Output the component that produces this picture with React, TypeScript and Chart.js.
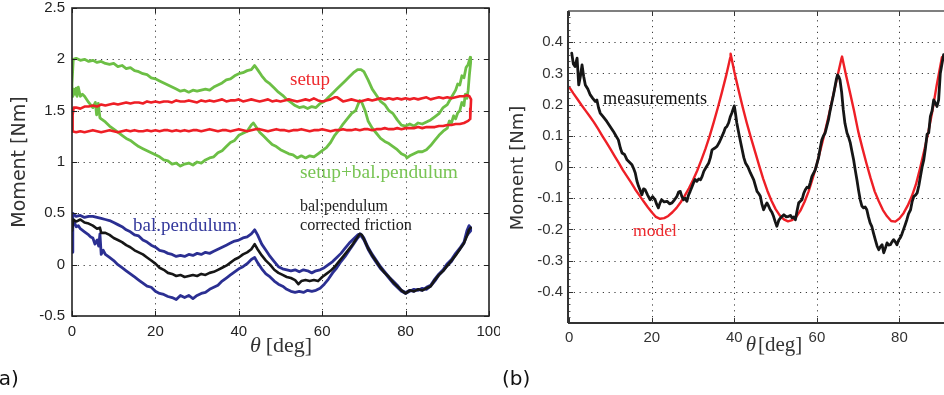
import React, { useEffect, useRef } from "react";
import { Chart, registerables } from "chart.js";
Chart.register(...registerables);

// ---------------- Panel (a) data: [theta (deg), moment (Nm)] ----------------
const setupLoop: [number, number][] = [
  [0,1.30],[0.15,1.46],[0.4,1.53],[1,1.53],[2,1.52],[3,1.54],[4,1.54],[5,1.55],[6,1.54],[7,1.56],[8,1.55],[9,1.56],[10,1.57],[11,1.56],[12,1.57],[13,1.58],[14,1.57],[15,1.58],[16,1.58],[17,1.57],[18,1.59],[19,1.58],[20,1.59],[21,1.58],[22,1.59],[23,1.59],[24,1.58],[25,1.60],[26,1.59],[27,1.59],[28,1.60],[29,1.59],[30,1.58],[31,1.60],[32,1.59],[33,1.60],[34,1.59],[35,1.60],[36,1.61],[37,1.59],[38,1.60],[39,1.60],[40,1.61],[41,1.59],[42,1.60],[43,1.61],[44,1.60],[45,1.59],[46,1.60],[47,1.61],[48,1.59],[49,1.60],[50,1.59],[51,1.60],[52,1.61],[53,1.60],[54,1.59],[55,1.60],[56,1.61],[57,1.60],[58,1.62],[59,1.60],[60,1.59],[61,1.60],[62,1.61],[63,1.63],[63.6,1.63],[64.3,1.61],[65,1.59],[66,1.60],[67,1.61],[68,1.60],[69,1.59],[70,1.60],[71,1.61],[72,1.60],[73,1.61],[74,1.62],[75,1.61],[76,1.62],[77,1.61],[78,1.62],[79,1.61],[80,1.62],[81,1.61],[82,1.62],[83,1.61],[84,1.62],[85,1.63],[86,1.61],[87,1.62],[88,1.63],[89,1.62],[90,1.63],[91,1.62],[92,1.63],[93,1.64],[94,1.64],[94.7,1.65],[95.3,1.64],[95.7,1.61],[95.6,1.52],[95.5,1.42],
  [95,1.40],[94,1.38],[93,1.37],[92,1.37],[91,1.36],[90,1.36],[89,1.35],[88,1.35],[87,1.34],[86,1.34],[85,1.34],[84,1.33],[83,1.34],[82,1.33],[81,1.33],[80,1.33],[79,1.32],[78,1.33],[77,1.32],[76,1.32],[75,1.33],[74,1.32],[73,1.32],[72,1.31],[71,1.32],[70,1.32],[69,1.31],[68,1.32],[67,1.31],[66,1.31],[65,1.32],[64,1.31],[63,1.31],[62,1.30],[61,1.31],[60,1.32],[59,1.31],[58,1.31],[57,1.30],[56,1.31],[55,1.32],[54,1.31],[53,1.31],[52,1.30],[51,1.31],[50,1.31],[49,1.32],[48,1.31],[47,1.30],[46,1.31],[45,1.32],[44,1.32],[43,1.31],[42,1.30],[41,1.31],[40,1.32],[39,1.31],[38,1.30],[37,1.31],[36,1.31],[35,1.30],[34,1.31],[33,1.32],[32,1.31],[31,1.30],[30,1.31],[29,1.31],[28,1.30],[27,1.31],[26,1.30],[25,1.31],[24,1.30],[23,1.31],[22,1.31],[21,1.30],[20,1.31],[19,1.30],[18,1.31],[17,1.30],[16,1.30],[15,1.31],[14,1.30],[13,1.31],[12,1.30],[11,1.29],[10,1.30],[9,1.31],[8,1.30],[7,1.29],[6,1.30],[5,1.31],[4,1.30],[3,1.29],[2,1.30],[1,1.29],[0,1.30],
];

const setupBalLoop: [number, number][] = [
  [0,1.76],[0.3,2.0],[1,2.01],[2,1.99],[3,2.0],[4,1.98],[5,1.99],[6,1.97],[7,1.98],[8,1.96],[9,1.95],[10,1.96],[11,1.93],[12,1.94],[13,1.91],[14,1.92],[15,1.89],[16,1.88],[17,1.86],[18,1.85],[19,1.82],[20,1.81],[21,1.79],[22,1.77],[23,1.75],[24,1.73],[25,1.71],[26,1.69],[27,1.70],[28,1.68],[29,1.70],[30,1.69],[31,1.70],[32,1.71],[33,1.70],[34,1.73],[35,1.75],[36,1.77],[37,1.80],[38,1.81],[39,1.84],[40,1.86],[41,1.87],[42,1.89],[43,1.90],[43.8,1.94],[44.5,1.90],[45.5,1.84],[46.5,1.79],[47.5,1.76],[48.5,1.72],[49.5,1.68],[50.5,1.65],[51.5,1.61],[52.5,1.58],[53.5,1.55],[54.5,1.53],[55.5,1.54],[56.5,1.52],[57.5,1.54],[58.5,1.53],[59.5,1.57],[60.5,1.59],[61.5,1.63],[62.5,1.67],[63.5,1.71],[64.5,1.75],[65.5,1.79],[66.5,1.83],[67.5,1.87],[68.5,1.90],[69.3,1.90],[70,1.88],[71,1.80],[72,1.71],[73,1.65],[74,1.59],[75,1.56],[76,1.50],[77,1.47],[78,1.41],[79,1.36],[80,1.35],[81,1.37],[82,1.35],[83,1.38],[84,1.37],[85,1.39],[86,1.41],[87,1.44],[88,1.47],[89,1.53],[90,1.56],[91,1.63],[92,1.70],[92.5,1.76],[93,1.75],[93.5,1.84],[94,1.82],[94.5,1.92],[95,1.95],[95.5,2.02],
  [95.6,1.97],[95.3,1.85],[95,1.70],[94.7,1.62],[94.3,1.66],[94,1.55],[93.5,1.58],[93,1.50],[92.5,1.48],[92,1.42],[91.5,1.45],[91,1.38],[90.5,1.40],[90,1.33],[89,1.30],[88,1.26],[87,1.21],[86,1.16],[85,1.12],[84,1.10],[83,1.10],[82,1.08],[81,1.06],[80.3,1.04],[80,1.06],[79,1.08],[78,1.12],[77,1.15],[76,1.18],[75,1.20],[74,1.23],[73,1.28],[72,1.33],[71,1.40],[70.3,1.50],[69.5,1.58],[69,1.60],[68.5,1.55],[68,1.50],[67,1.47],[66,1.42],[65,1.37],[64,1.31],[63,1.26],[62,1.19],[61,1.14],[60,1.11],[59,1.08],[58,1.05],[57,1.06],[56,1.04],[55,1.06],[54,1.04],[53,1.07],[52,1.08],[51,1.10],[50,1.12],[49,1.15],[48,1.17],[47,1.21],[46,1.25],[45,1.29],[44,1.35],[43.5,1.38],[43,1.36],[42,1.30],[41,1.28],[40,1.26],[39,1.21],[38,1.19],[37,1.15],[36,1.11],[35,1.09],[34,1.05],[33,1.04],[32,1.02],[31,0.99],[30,1.00],[29,0.97],[28,0.99],[27,0.98],[26,0.96],[25,0.99],[24,0.98],[23,1.01],[22,1.02],[21,1.05],[20,1.07],[19,1.09],[18,1.11],[17,1.13],[16,1.15],[15,1.18],[14,1.21],[13,1.23],[12,1.26],[11,1.29],[10,1.32],[9,1.35],[8,1.39],[7,1.42],[6.7,1.43],[6.3,1.57],[5.9,1.46],[5.6,1.58],[5,1.53],[4,1.58],[3,1.64],[2.5,1.66],[2,1.64],[1.5,1.73],[1.2,1.64],[1,1.72],[0.7,1.66],[0.4,1.71],[0.2,1.64],[0,1.76],
];

const balPendulumLoop: [number, number][] = [
  [0,0.12],[0.2,0.50],[1,0.47],[2,0.48],[3,0.46],[4,0.47],[5,0.47],[6,0.46],[7,0.45],[8,0.44],[9,0.43],[10,0.41],[11,0.39],[12,0.37],[13,0.34],[14,0.32],[15,0.29],[16,0.28],[17,0.24],[18,0.22],[19,0.19],[20,0.17],[21,0.14],[22,0.13],[23,0.11],[24,0.10],[25,0.08],[26,0.09],[27,0.08],[28,0.10],[29,0.09],[30,0.11],[31,0.10],[32,0.12],[33,0.11],[34,0.13],[35,0.15],[36,0.17],[37,0.19],[38,0.21],[39,0.23],[40,0.24],[41,0.26],[42,0.27],[43,0.30],[43.8,0.34],[44.5,0.29],[45.5,0.20],[46.5,0.14],[47.5,0.08],[48.5,0.03],[49.5,-0.02],[50.5,-0.04],[51.5,-0.05],[52.5,-0.06],[53.5,-0.05],[54.5,-0.07],[55.5,-0.05],[56.5,-0.06],[57.5,-0.08],[58.5,-0.06],[59.5,-0.05],[60.5,-0.03],[61.5,0.0],[62.5,0.03],[63.5,0.07],[64.5,0.11],[65.5,0.16],[66.5,0.21],[67.5,0.25],[68.5,0.29],[69.2,0.30],[70,0.26],[71,0.17],[72,0.10],[73,0.04],[74,-0.02],[75,-0.07],[76,-0.12],[77,-0.16],[78,-0.20],[79,-0.25],[80,-0.27],[81,-0.25],[82,-0.26],[83,-0.24],[84,-0.25],[85,-0.22],[86,-0.20],[87,-0.14],[88,-0.09],[89,-0.05],[90,0.01],[91,0.05],[92,0.11],[93,0.16],[94,0.22],[94.7,0.33],[95.2,0.38],[95.6,0.36],
  [95.6,0.33],[95,0.30],[94.5,0.27],[94,0.21],[93,0.15],[92,0.10],[91,0.03],[90,-0.01],[89,-0.06],[88,-0.10],[87,-0.16],[86,-0.21],[85,-0.24],[84,-0.23],[83,-0.25],[82,-0.24],[81,-0.26],[80,-0.28],[79,-0.26],[78,-0.22],[77,-0.18],[76,-0.13],[75,-0.08],[74,-0.04],[73,0.02],[72,0.08],[71,0.15],[70,0.24],[69.2,0.29],[68.5,0.26],[67.5,0.20],[66.5,0.14],[65.5,0.08],[64.5,0.03],[63.5,-0.03],[62.5,-0.08],[61.5,-0.14],[60.5,-0.19],[59.5,-0.23],[58.5,-0.25],[57.5,-0.26],[56.5,-0.25],[55.5,-0.27],[54.5,-0.26],[53.5,-0.27],[52.5,-0.26],[51.5,-0.24],[50.5,-0.21],[49.5,-0.19],[48.5,-0.16],[47.5,-0.12],[46.5,-0.09],[45.5,-0.04],[44.5,0.02],[43.8,0.07],[43,0.05],[42,0.01],[41,-0.02],[40,-0.04],[39,-0.07],[38,-0.10],[37,-0.13],[36,-0.16],[35,-0.20],[34,-0.22],[33,-0.24],[32,-0.27],[31,-0.28],[30,-0.30],[29,-0.33],[28,-0.30],[27,-0.32],[26,-0.30],[25,-0.34],[24,-0.32],[23,-0.31],[22,-0.29],[21,-0.28],[20,-0.26],[19,-0.22],[18,-0.21],[17,-0.18],[16,-0.15],[15,-0.12],[14,-0.09],[13,-0.06],[12,-0.03],[11,0.00],[10,0.04],[9,0.07],[8,0.10],[7.5,0.14],[7,0.10],[6.7,0.30],[6.4,0.18],[6,0.24],[5.5,0.20],[5,0.26],[4.5,0.27],[4,0.29],[3,0.32],[2,0.35],[1.5,0.38],[1,0.37],[0.5,0.42],[0.2,0.38],[0,0.12],
];

const correctedFriction: [number, number][] = [
  [0,0.33],[0.3,0.44],[1,0.42],[2,0.44],[3,0.41],[4,0.40],[5,0.38],[6,0.35],[6.7,0.36],[7,0.31],[8,0.31],[9,0.29],[10,0.26],[11,0.24],[12,0.22],[13,0.19],[14,0.17],[15,0.14],[16,0.12],[17,0.10],[18,0.07],[19,0.04],[20,0.01],[21,-0.03],[22,-0.05],[23,-0.08],[24,-0.09],[25,-0.11],[26,-0.10],[27,-0.12],[28,-0.11],[29,-0.10],[30,-0.11],[31,-0.09],[32,-0.10],[33,-0.08],[34,-0.07],[35,-0.05],[36,-0.03],[37,-0.01],[38,0.02],[39,0.05],[40,0.07],[41,0.10],[42,0.12],[43,0.15],[43.8,0.20],[44.5,0.15],[45.5,0.09],[46.5,0.04],[47.5,0.00],[48.5,-0.05],[49.5,-0.08],[50.5,-0.10],[51.5,-0.12],[52.5,-0.13],[53.5,-0.15],[54.3,-0.19],[55,-0.16],[56,-0.15],[57,-0.16],[58,-0.15],[59,-0.16],[60,-0.12],[61,-0.09],[62,-0.06],[63,-0.02],[64,0.03],[65,0.08],[66,0.13],[67,0.18],[68,0.24],[69,0.30],[69.5,0.29],[70,0.25],[71,0.16],[72,0.09],[73,0.03],[74,-0.03],[75,-0.08],[76,-0.12],[77,-0.17],[78,-0.21],[79,-0.25],[80,-0.28],[81,-0.25],[82,-0.26],[83,-0.24],[84,-0.25],[85,-0.23],[86,-0.21],[87,-0.15],[88,-0.10],[89,-0.06],[90,-0.01],[91,0.04],[92,0.09],[93,0.15],[94,0.21],[94.7,0.28],[95.2,0.34],[95.6,0.36],
];

const xTicksA = [0, 20, 40, 60, 80, 100];
const yTicksA = [-0.5, 0, 0.5, 1, 1.5, 2, 2.5];

// ---------------- Panel (b) data ----------------
const modelCurve: [number, number][] = [
  [0,0.256],[1,0.236],[2,0.217],[3,0.198],[4,0.180],[5,0.162],[6,0.143],[7,0.122],[8,0.100],[9,0.079],[10,0.057],[11,0.035],[12,0.013],[13,-0.010],[14,-0.030],[15,-0.050],[16,-0.072],[17,-0.091],[18,-0.110],[19,-0.128],[20,-0.145],[21,-0.160],[22,-0.166],[23,-0.164],[24,-0.157],[25,-0.145],[26,-0.131],[27,-0.113],[28,-0.092],[29,-0.068],[30,-0.042],[31,-0.012],[32,0.022],[33,0.058],[34,0.098],[35,0.143],[36,0.190],[37,0.240],[38,0.292],[39,0.350],[39.1,0.363],
  [40,0.305],[41,0.248],[42,0.193],[43,0.142],[44,0.095],[45,0.050],[46,0.005],[47,-0.038],[48,-0.076],[49,-0.108],[50,-0.135],[51,-0.155],[52,-0.168],[53,-0.174],[54,-0.170],[55,-0.160],[56,-0.140],[57,-0.112],[58,-0.078],[59,-0.036],[60,0.010],[61,0.062],[62,0.115],[63,0.172],[64,0.232],[65,0.292],[66,0.350],[66.1,0.354],
  [67,0.298],[68,0.240],[69,0.180],[70,0.115],[71,0.062],[72,0.012],[73,-0.035],[74,-0.078],[75,-0.110],[76,-0.138],[77,-0.158],[78,-0.173],[79,-0.175],[80,-0.165],[81,-0.148],[82,-0.124],[83,-0.094],[84,-0.056],[85,-0.004],[86,0.052],[87,0.112],[88,0.180],[89,0.260],[90,0.330],[90.3,0.352],
];

const measurements: [number, number][] = [
  [0.6,0.365],[1.0,0.33],[1.4,0.322],[1.9,0.349],[2.3,0.263],[2.7,0.29],[3.1,0.327],[3.5,0.29],[3.9,0.263],[4.5,0.25],[5.1,0.231],[5.7,0.22],[6.3,0.21],[6.7,0.215],[7.1,0.19],[7.5,0.173],[8.3,0.16],[9.1,0.146],[9.9,0.13],[10.7,0.114],[11.3,0.10],[11.9,0.087],[12.4,0.06],[12.8,0.045],[13.4,0.04],[14,0.023],[14.6,0.015],[15.2,0.007],[15.6,-0.005],[16,-0.019],[16.4,-0.045],[16.8,-0.062],[17.2,-0.075],[17.6,-0.089],[18,-0.07],[18.4,-0.073],[19,-0.09],[19.6,-0.105],[20.2,-0.095],[20.8,-0.105],[21.2,-0.12],[21.6,-0.131],[22,-0.115],[22.4,-0.105],[23,-0.112],[23.7,-0.11],[24.3,-0.118],[24.9,-0.115],[25.5,-0.105],[26.1,-0.094],[26.5,-0.08],[26.9,-0.078],[27.3,-0.095],[27.7,-0.105],[28.1,-0.1],[28.5,-0.11],[28.9,-0.09],[29.3,-0.078],[29.7,-0.065],[30.1,-0.051],[30.5,-0.04],[30.9,-0.046],[31.4,-0.038],[31.8,-0.041],[32.2,-0.03],[32.6,-0.014],[33.2,0.0],[33.8,0.013],[34.2,0.03],[34.6,0.055],[35.2,0.06],[35.8,0.066],[36.4,0.08],[37,0.098],[37.4,0.11],[37.8,0.125],[38.2,0.13],[38.6,0.141],[39,0.16],[39.4,0.173],[39.7,0.185],[40,0.196],[40.3,0.17],[40.6,0.141],[41.2,0.1],[41.9,0.055],[42.3,0.03],[42.7,0.013],[43.3,0.0],[43.9,-0.019],[44.3,-0.03],[44.7,-0.041],[45.1,-0.06],[45.5,-0.078],[45.9,-0.085],[46.3,-0.094],[46.7,-0.12],[47.1,-0.137],[47.5,-0.125],[47.9,-0.115],[48.3,-0.125],[48.7,-0.137],[49.1,-0.145],[49.5,-0.158],[49.9,-0.175],[50.3,-0.19],[50.8,-0.17],[51.2,-0.163],[51.6,-0.158],[52,-0.153],[52.6,-0.16],[53.2,-0.158],[53.6,-0.155],[54,-0.163],[54.4,-0.16],[54.8,-0.169],[55.2,-0.14],[55.6,-0.115],[56,-0.11],[56.4,-0.105],[56.8,-0.085],[57.2,-0.073],[57.6,-0.065],[58,-0.067],[58.4,-0.05],[58.8,-0.03],[59.2,-0.02],[59.6,-0.009],[60,0.01],[60.4,0.029],[60.8,0.06],[61.2,0.087],[61.6,0.1],[62,0.109],[62.4,0.13],[62.8,0.151],[63.2,0.18],[63.6,0.205],[64,0.23],[64.4,0.258],[64.7,0.28],[65,0.295],[65.3,0.29],[65.6,0.279],[66,0.24],[66.4,0.183],[66.8,0.14],[67.3,0.109],[67.7,0.095],[68.1,0.077],[68.5,0.05],[68.9,0.023],[69.3,-0.01],[69.7,-0.041],[70.1,-0.075],[70.5,-0.105],[70.9,-0.125],[71.3,-0.131],[71.7,-0.128],[72.1,-0.137],[72.5,-0.16],[72.9,-0.179],[73.3,-0.19],[73.7,-0.211],[74.2,-0.235],[74.6,-0.254],[75,-0.265],[75.4,-0.255],[75.8,-0.249],[76.2,-0.275],[76.6,-0.26],[77,-0.243],[77.4,-0.25],[77.8,-0.249],[78.2,-0.24],[78.6,-0.233],[79,-0.24],[79.4,-0.249],[79.8,-0.235],[80.2,-0.227],[80.6,-0.215],[81,-0.2],[81.4,-0.185],[81.8,-0.169],[82.2,-0.15],[82.7,-0.137],[83.1,-0.11],[83.5,-0.094],[83.9,-0.09],[84.3,-0.083],[84.7,-0.06],[85.1,-0.03],[85.5,0.0],[85.9,0.023],[86.3,0.06],[86.7,0.105],[87.1,0.11],[87.5,0.162],[87.9,0.18],[88.3,0.215],[88.7,0.205],[89.1,0.194],[89.5,0.215],[89.9,0.3],[90.3,0.33],[90.7,0.36],
];

const xTicksB = [0, 20, 40, 60, 80];
const yTicksB = [-0.4, -0.3, -0.2, -0.1, 0, 0.1, 0.2, 0.3, 0.4];

// ---------------- helpers ----------------
const TICK_FONT = "'Liberation Sans', Arial, sans-serif";
const SERIF = "'Liberation Serif', 'Times New Roman', serif";
const SANS2 = "'DejaVu Sans', Verdana, sans-serif";

const line = (label: string, arr: [number, number][], color: string, width: number) => ({
  label,
  data: arr.map(([x, y]) => ({ x, y })),
  borderColor: color,
  backgroundColor: color,
  borderWidth: width,
  pointRadius: 0,
  showLine: true,
  fill: false,
  tension: 0,
  borderJoinStyle: "round",
  borderCapStyle: "round",
});

const setTicks = (vals: number[]) => (s: any) => {
  s.ticks = vals.map((v) => ({ value: v }));
};

const fixSize = (dim: "width" | "height", size: number) => (s: any) => {
  s[dim] = size;
  s.paddingLeft = 0;
  s.paddingRight = 0;
  s.paddingTop = 0;
  s.paddingBottom = 0;
};

const seg = (ctx: CanvasRenderingContext2D, x1: number, y1: number, x2: number, y2: number) => {
  ctx.beginPath();
  ctx.moveTo(x1, y1);
  ctx.lineTo(x2, y2);
  ctx.stroke();
};

// dotted grid drawn at the tick values, behind the data
const dottedGrid = (xs: number[], ys: number[]) => ({
  id: "dottedGrid",
  beforeDatasetsDraw(chart: any) {
    const { ctx, chartArea: a, scales } = chart;
    ctx.save();
    ctx.strokeStyle = "#3a3a3a";
    ctx.lineWidth = 1;
    ctx.setLineDash([1.2, 4.6]);
    for (const v of xs) {
      const px = Math.round(scales.x.getPixelForValue(v)) + 0.5;
      if (px <= a.left + 2 || px >= a.right - 2) continue;
      seg(ctx, px, a.bottom, px, a.top);
    }
    for (const v of ys) {
      const py = Math.round(scales.y.getPixelForValue(v)) + 0.5;
      if (py <= a.top + 2 || py >= a.bottom - 2) continue;
      seg(ctx, a.left, py, a.right, py);
    }
    ctx.restore();
  },
});

const frameA = {
  id: "frameA",
  afterDraw(chart: any) {
    const { ctx, chartArea: a, scales } = chart;
    ctx.save();
    ctx.strokeStyle = "#222";
    ctx.lineWidth = 1;
    for (const v of xTicksA) {
      const px = Math.round(scales.x.getPixelForValue(v)) + 0.5;
      seg(ctx, px, a.bottom, px, a.bottom - 5);
      seg(ctx, px, a.top, px, a.top + 5);
    }
    for (const v of yTicksA) {
      const py = Math.round(scales.y.getPixelForValue(v)) + 0.5;
      seg(ctx, a.left, py, a.left + 5, py);
      seg(ctx, a.right, py, a.right - 5, py);
    }
    ctx.lineWidth = 1.6;
    ctx.strokeRect(a.left, a.top, a.right - a.left, a.bottom - a.top);
    ctx.restore();
  },
};

const frameB = {
  id: "frameB",
  afterDraw(chart: any) {
    const { ctx, chartArea: a, scales } = chart;
    ctx.save();
    ctx.strokeStyle = "#555";
    ctx.lineWidth = 1;
    for (let k = -25; k <= 25; k++) {
      if (k % 5 === 0) continue;
      const py = Math.round(scales.y.getPixelForValue(k * 0.02)) + 0.5;
      seg(ctx, a.left, py, a.left + 2.5, py);
    }
    ctx.strokeStyle = "#333";
    for (const v of xTicksB) {
      const px = Math.round(scales.x.getPixelForValue(v)) + 0.5;
      seg(ctx, px, a.bottom, px, a.bottom - 5);
      seg(ctx, px, a.top, px, a.top + 5);
    }
    for (const v of yTicksB) {
      const py = Math.round(scales.y.getPixelForValue(v)) + 0.5;
      seg(ctx, a.left, py, a.left + 5, py);
    }
    ctx.strokeStyle = "#555";
    ctx.lineWidth = 1.4;
    seg(ctx, a.left, a.top, a.right, a.top);
    ctx.strokeStyle = "#333";
    ctx.lineWidth = 2;
    seg(ctx, a.left, a.top, a.left, a.bottom);
    seg(ctx, a.left, a.bottom, a.right, a.bottom);
    ctx.restore();
  },
};

const gridOff = { display: false, drawTicks: false };
const borderOff = { display: false };

function configA(): any {
  return {
    type: "scatter",
    data: {
      datasets: [
        line("setup", setupLoop, "#ee1f26", 2.6),
        line("setup+bal.pendulum", setupBalLoop, "#6cbf45", 2.8),
        line("bal.pendulum corrected friction", correctedFriction, "#161616", 2.6),
        line("bal.pendulum", balPendulumLoop, "#2b2f92", 2.8),
      ],
    },
    options: {
      responsive: false,
      animation: false,
      devicePixelRatio: 1,
      events: [],
      layout: { padding: { top: 8, right: 11, left: 0, bottom: 0 } },
      plugins: { legend: { display: false }, tooltip: { enabled: false } },
      scales: {
        x: {
          type: "linear",
          min: 0,
          max: 100,
          afterBuildTicks: setTicks(xTicksA),
          afterFit: fixSize("height", 44),
          ticks: {
            font: { family: TICK_FONT, size: 15 },
            color: "#222",
            padding: 7,
            maxRotation: 0,
            autoSkip: false,
            callback: (v: number) => String(v),
          },
          grid: gridOff,
          border: borderOff,
        },
        y: {
          type: "linear",
          min: -0.5,
          max: 2.5,
          afterBuildTicks: setTicks(yTicksA),
          afterFit: fixSize("width", 72),
          ticks: {
            font: { family: TICK_FONT, size: 15 },
            color: "#222",
            padding: 7,
            autoSkip: false,
            callback: (v: number) => String(v),
          },
          grid: gridOff,
          border: borderOff,
        },
      },
    },
    plugins: [dottedGrid(xTicksA, yTicksA), frameA],
  };
}

function configB(): any {
  return {
    type: "scatter",
    data: {
      datasets: [
        line("measurements", measurements, "#161616", 2.8),
        line("model", modelCurve, "#ee1f26", 2.4),
      ],
    },
    options: {
      responsive: false,
      animation: false,
      devicePixelRatio: 1,
      events: [],
      layout: { padding: { top: 11, right: 0, left: 0, bottom: 0 } },
      plugins: { legend: { display: false }, tooltip: { enabled: false } },
      scales: {
        x: {
          type: "linear",
          min: -0.3,
          max: 90.8,
          afterBuildTicks: setTicks(xTicksB),
          afterFit: fixSize("height", 37),
          ticks: {
            font: { family: TICK_FONT, size: 15 },
            color: "#333",
            padding: 6,
            maxRotation: 0,
            autoSkip: false,
            callback: (v: number) => String(v),
          },
          grid: gridOff,
          border: borderOff,
        },
        y: {
          type: "linear",
          min: -0.5,
          max: 0.5,
          afterBuildTicks: setTicks(yTicksB),
          afterFit: fixSize("width", 68),
          ticks: {
            font: { family: TICK_FONT, size: 15 },
            color: "#333",
            padding: 5,
            autoSkip: false,
            callback: (v: number) => String(Math.round(v * 10) / 10),
          },
          grid: gridOff,
          border: borderOff,
        },
      },
    },
    plugins: [dottedGrid(xTicksB, yTicksB), frameB],
  };
}

function ChartCanvas({ make, left, width, height }: { make: () => any; left: number; width: number; height: number }) {
  const ref = useRef<HTMLCanvasElement | null>(null);
  useEffect(() => {
    const chart = new Chart(ref.current as HTMLCanvasElement, make());
    return () => chart.destroy();
  }, []);
  return (
    <canvas
      ref={ref}
      width={width}
      height={height}
      style={{ position: "absolute", left, top: 0, width, height }}
    />
  );
}

function Label({ text, left, cy, size, color, family }: any) {
  return (
    <div
      style={{
        position: "absolute",
        left,
        top: cy,
        transform: "translateY(-50%)",
        fontFamily: family || SERIF,
        fontSize: size,
        color: color || "#222",
        lineHeight: 1,
        whiteSpace: "nowrap",
      }}
    >
      {text}
    </div>
  );
}

function YTitle({ cx, cy, size }: { cx: number; cy: number; size: number }) {
  return (
    <div
      style={{
        position: "absolute",
        left: cx,
        top: cy,
        transform: "translate(-50%, -50%) rotate(-90deg)",
        fontFamily: SANS2,
        fontSize: size,
        color: "#333",
        lineHeight: 1,
        whiteSpace: "nowrap",
      }}
    >
      Moment [Nm]
    </div>
  );
}

function XTitle({ cx, cy, size, gap }: { cx: number; cy: number; size: number; gap: number }) {
  return (
    <div
      style={{
        position: "absolute",
        left: cx,
        top: cy,
        transform: "translate(-50%, -50%)",
        fontFamily: SERIF,
        fontSize: size,
        color: "#333",
        lineHeight: 1,
        whiteSpace: "nowrap",
      }}
    >
      <span style={{ fontStyle: "italic" }}>θ</span>
      <span style={{ marginLeft: gap }}>[deg]</span>
    </div>
  );
}

export default function App() {
  return (
    <div
      style={{
        position: "fixed",
        left: 0,
        top: 0,
        width: 944,
        height: 395,
        overflow: "hidden",
        background: "#fff",
      }}
    >
      <ChartCanvas make={configA} left={0} width={500} height={360} />
      <ChartCanvas make={configB} left={500} width={444} height={360} />

      <YTitle cx={18} cy={162} size={19} />
      <YTitle cx={517} cy={168} size={18} />
      <XTitle cx={281} cy={345} size={22} gap={5} />
      <XTitle cx={774} cy={344} size={21} gap={2} />

      <Label text="setup" left={290} cy={78} size={19} color="#ee2a2e" />
      <Label text="setup+bal.pendulum" left={300} cy={172} size={19.4} color="#78c454" />
      <Label text="bal.pendulum" left={133} cy={224} size={19} color="#34399c" />
      <Label text="bal:pendulum" left={300} cy={206} size={16} color="#222" />
      <Label text="corrected friction" left={300} cy={225} size={16.2} color="#222" />
      <Label text="measurements" left={603} cy={98} size={18.2} color="#111" />
      <Label text="model" left={633} cy={231} size={17.6} color="#ee2a2e" />

      <Label text="(a)" left={-9} cy={378} size={20} color="#111" family={SANS2} />
      <Label text="(b)" left={502} cy={378} size={20} color="#111" family={SANS2} />
    </div>
  );
}
